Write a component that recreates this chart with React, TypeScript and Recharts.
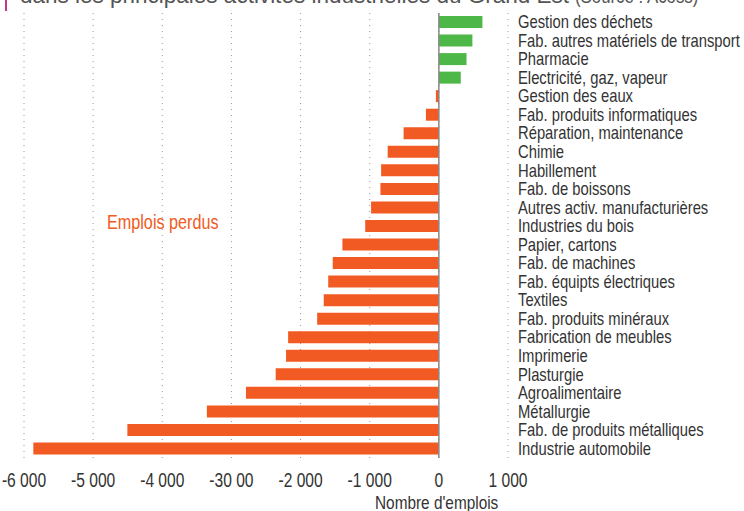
import { BarChart, Bar, Cell, XAxis, YAxis, CartesianGrid, ReferenceLine } from 'recharts'

const categories = [
  'Gestion des déchets',
  'Fab. autres matériels de transport',
  'Pharmacie',
  'Electricité, gaz, vapeur',
  'Gestion des eaux',
  'Fab. produits informatiques',
  'Réparation, maintenance',
  'Chimie',
  'Habillement',
  'Fab. de boissons',
  'Autres activ. manufacturières',
  'Industries du bois',
  'Papier, cartons',
  'Fab. de machines',
  'Fab. équipts électriques',
  'Textiles',
  'Fab. produits minéraux',
  'Fabrication de meubles',
  'Imprimerie',
  'Plasturgie',
  'Agroalimentaire',
  'Métallurgie',
  'Fab. de produits métalliques',
  'Industrie automobile',
]

const emplois = [
  630, 485, 400, 317, -43, -187, -510, -740, -835, -845, -980, -1065, -1395,
  -1535, -1600, -1665, -1760, -2180, -2210, -2360, -2790, -3355, -4505, -5865,
]

const tickValues = [-6000, -5000, -4000, -3000, -2000, -1000, 0, 1000]
const tickLabels = ['-6 000', '-5 000', '-4 000', '-30 00', '-2 000', '-1 000', '0', '1 000']

const GREEN = '#4db848'
const ORANGE = '#f15a22'
const TEXT = '#333'
// no condensed face installed: Liberation Sans squeezed horizontally
const FONT = "'Liberation Sans', Arial, sans-serif"
const SQUEEZE = 0.83

const data = categories.map((name, i) => ({ name, value: emplois[i] }))

function CatTick({ x, y, payload }: any) {
  return (
    <g transform={`translate(${x},${y})`}>
      <text
        transform="scale(0.845,1)"
        x={0}
        y={0}
        dy="0.34em"
        textAnchor="start"
        fontFamily={FONT}
        fontSize={17.5}
        fill={TEXT}
      >
        {payload.value}
      </text>
    </g>
  )
}

function ValueTick({ x, y, payload }: any) {
  const i = tickValues.indexOf(payload.value)
  return (
    <g transform={`translate(${x},${y})`}>
      <text
        transform="scale(0.8,1)"
        x={0}
        y={0}
        dy="0.71em"
        textAnchor="middle"
        fontFamily={FONT}
        fontSize={19.5}
        fill={TEXT}
      >
        {i >= 0 ? tickLabels[i] : String(payload.value)}
      </text>
    </g>
  )
}

const squeezed: React.CSSProperties = {
  position: 'absolute',
  whiteSpace: 'nowrap',
  transform: `scaleX(${SQUEEZE})`,
  transformOrigin: '0 0',
  fontFamily: FONT,
}

export default function App() {
  return (
    <div
      style={{
        position: 'absolute',
        left: 0,
        top: 0,
        width: 744,
        height: 511,
        overflow: 'hidden',
        background: '#fff',
        fontFamily: FONT,
      }}
    >
      <div style={{ position: 'absolute', left: 5, top: 0, width: 2, height: 11, background: '#c8378a' }} />
      <div
        style={{
          position: 'absolute',
          left: 20,
          top: -18,
          whiteSpace: 'nowrap',
          color: '#555',
          fontFamily: FONT,
          fontSize: 22.5,
          lineHeight: '28px',
        }}
      >
        dans les principales activités industrielles du Grand Est{' '}
        <span style={{ display: 'inline-block', fontSize: 20.5, transform: 'scaleX(0.82)', transformOrigin: '0 0' }}>
          (Source : Acoss)
        </span>
      </div>
      <BarChart
        layout="vertical"
        width={744}
        height={511}
        data={data}
        margin={{ top: 13, right: 0, bottom: 23, left: 24 }}
        barSize={12}
      >
        <CartesianGrid horizontal={false} stroke="#999" strokeDasharray="1 5" />
        <XAxis
          type="number"
          domain={[-6000, 1000]}
          ticks={tickValues}
          interval={0}
          axisLine={false}
          tickLine={false}
          tickMargin={9}
          height={30}
          tick={<ValueTick />}
        />
        <YAxis
          type="category"
          dataKey="name"
          orientation="right"
          width={236}
          interval={0}
          axisLine={false}
          tickLine={false}
          tickMargin={4}
          tick={<CatTick />}
        />
        <ReferenceLine x={0} stroke="#888" strokeWidth={1.5} />
        <Bar dataKey="value" isAnimationActive={false}>
          {data.map((d) => (
            <Cell key={d.name} fill={d.value >= 0 ? GREEN : ORANGE} />
          ))}
        </Bar>
      </BarChart>
      <div style={{ ...squeezed, left: 107, top: 211, color: ORANGE, fontSize: 19.5 }}>
        Emplois perdus
      </div>
      <div style={{ ...squeezed, left: 375, top: 492, color: TEXT, fontSize: 18.5 }}>
        Nombre d'emplois
      </div>
    </div>
  )
}
